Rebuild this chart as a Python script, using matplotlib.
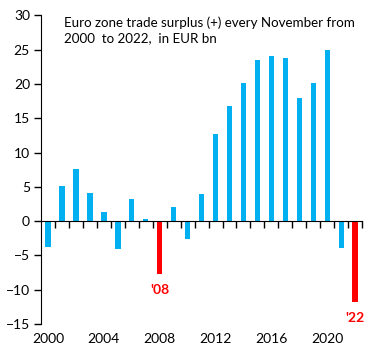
import numpy as np
import matplotlib
matplotlib.use("Agg")
import matplotlib.pyplot as plt
from matplotlib.transforms import blended_transform_factory

plt.rcParams["font.family"] = ["Lato", "DejaVu Sans"]

years = list(range(2000, 2023))
surplus = [-3.7, 5.2, 7.6, 4.1, 1.4, -4.0, 3.3, 0.3, -7.7, 2.1, -2.6, 4.0,
           12.7, 16.8, 20.2, 23.5, 24.1, 23.8, 18.0, 20.2, 24.9, -3.9, -11.8]
highlight = [2008, 2022]
highlight_labels = ["'08", "'22"]
year_labels = [2000, 2004, 2008, 2012, 2016, 2020]

blue = "#00B0F0"
red = "#FF0000"

fig = plt.figure(figsize=(3.84, 3.6), dpi=100)
ax = fig.add_axes([0.107, 0.1, 0.836, 0.857])

colors = [red if y in highlight else blue for y in years]
ax.bar(years, surplus, width=0.38, color=colors, zorder=2)

ax.set_xlim(1999.5, 2022.5)
ax.set_ylim(-15, 30)
ax.set_yticks(np.arange(-15, 31, 5))
ax.tick_params(axis="y", direction="out", length=5, width=1, labelsize=10, pad=3)

# x axis sits on zero, with ticks between the bars
ax.spines["bottom"].set_position(("data", 0))
ax.spines["top"].set_visible(False)
ax.spines["right"].set_visible(False)
ax.set_xticks([])
ax.set_xticks(np.arange(2000.5, 2023, 1), minor=True)
ax.tick_params(axis="x", which="minor", direction="out", length=5, width=1)

tr = blended_transform_factory(ax.transData, ax.transAxes)
for y in year_labels:
    ax.text(y, -0.028, str(y), transform=tr, ha="center", va="top", fontsize=10)

for y, lab in zip(highlight, highlight_labels):
    v = surplus[years.index(y)]
    ax.text(y, v - 1.5, lab, ha="center", va="top", color=red,
            fontsize=10, fontweight="bold")

ax.text(0.07, 0.998, "Euro zone trade surplus (+) every November from\n2000  to 2022,  in EUR bn",
        transform=ax.transAxes, ha="left", va="top", fontsize=9.6, linespacing=1.35)

fig.savefig("out.png", dpi=100)
